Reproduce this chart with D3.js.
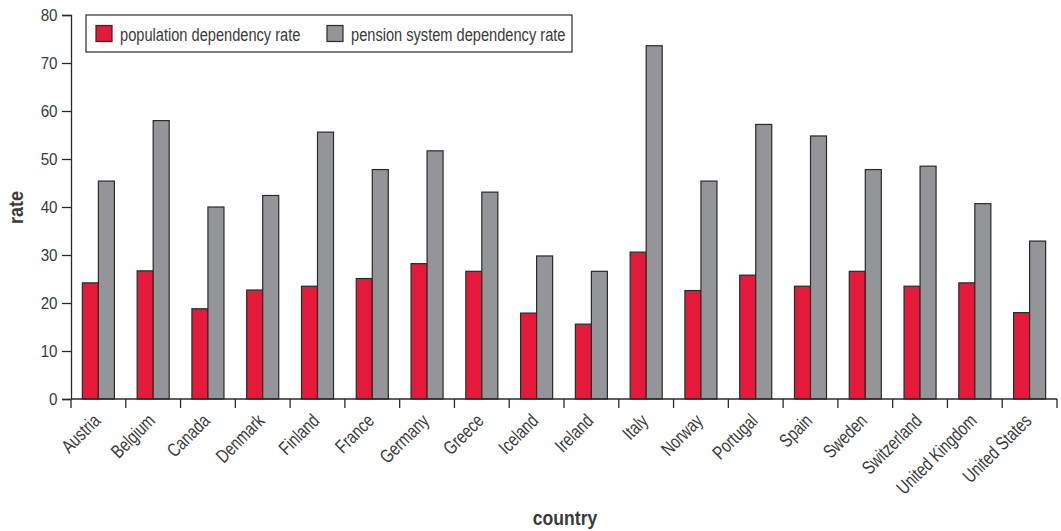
<!DOCTYPE html>
<html>
<head>
<meta charset="utf-8">
<script src="https://cdn.jsdelivr.net/npm/d3@7"></script>
<style>
  html, body { margin: 0; padding: 0; background: #fff; }
  svg { display: block; }
  text { font-family: "Liberation Sans", Arial, sans-serif; fill: #3a3a3a; }
</style>
</head>
<body>
<svg id="chart" width="1061" height="531"></svg>
<script>
const countries = ["Austria", "Belgium", "Canada", "Denmark", "Finland", "France", "Germany", "Greece",
  "Iceland", "Ireland", "Italy", "Norway", "Portugal", "Spain", "Sweden", "Switzerland",
  "United Kingdom", "United States"];
const populationRate = [24.2, 26.7, 18.8, 22.7, 23.5, 25.1, 28.2, 26.6, 17.9, 15.6, 30.6, 22.6, 25.8, 23.5, 26.6, 23.5, 24.2, 18.0];
const pensionRate = [45.4, 58.0, 40.0, 42.4, 55.6, 47.8, 51.7, 43.1, 29.8, 26.6, 73.6, 45.4, 57.2, 54.8, 47.8, 48.5, 40.7, 32.9];
const seriesNames = ["population dependency rate", "pension system dependency rate"];
const seriesColors = ["#e5193a", "#939598"];
const yTicks = [0, 10, 20, 30, 40, 50, 60, 70, 80];

const svg = d3.select("#chart");
const plotLeft = 71, plotRight = 1057, plotTop = 15, plotBottom = 399;
const strokeCol = "#2a2a2a";
const narrow = 0.77;     // horizontal squeeze for condensed labels
const narrowNum = 0.92;  // digits are squeezed less

const x = d3.scaleBand().domain(countries).range([plotLeft, plotRight]).padding(0);
const x1 = d3.scaleBand().domain([0, 1]).range([0, x.bandwidth()]).paddingInner(0).paddingOuter(0.71);
const y = d3.scaleLinear().domain([0, 80]).range([plotBottom, plotTop]);

const rows = countries.map((c, i) => ({ country: c, values: [populationRate[i], pensionRate[i]] }));

// bars
const groups = svg.append("g").selectAll("g").data(rows).join("g")
  .attr("transform", d => `translate(${x(d.country)},0)`);
groups.selectAll("rect").data(d => d.values.map((v, k) => ({ v, k }))).join("rect")
  .attr("x", d => x1(d.k))
  .attr("width", x1.bandwidth())
  .attr("y", d => y(d.v))
  .attr("height", d => y(0) - y(d.v))
  .attr("fill", d => seriesColors[d.k])
  .attr("stroke", strokeCol)
  .attr("stroke-width", 1.2);

// y axis
const yAxis = svg.append("g").attr("transform", `translate(${plotLeft},0)`)
  .call(d3.axisLeft(y).tickValues(yTicks).tickSize(9).tickPadding(4));
yAxis.select(".domain").attr("stroke", strokeCol).attr("stroke-width", 1.3);
yAxis.selectAll(".tick line").attr("stroke", strokeCol).attr("stroke-width", 1.3);
yAxis.selectAll(".tick text")
  .attr("font-size", 16.5).attr("fill", "#3a3a3a")
  .attr("font-family", "\"Liberation Sans\", Arial, sans-serif")
  .attr("transform", `scale(${narrowNum},1)`)
  .attr("x", -13.5 / narrowNum)
  .attr("dy", "0.36em");

// x axis: baseline with ticks at band boundaries
const xAxisG = svg.append("g");
xAxisG.append("line").attr("x1", plotLeft).attr("x2", plotRight).attr("y1", y(0)).attr("y2", y(0))
  .attr("stroke", strokeCol).attr("stroke-width", 1.3);
const boundaries = countries.map(c => x(c)).concat([x(countries[countries.length - 1]) + x.bandwidth()]);
xAxisG.selectAll("line.tk").data(boundaries).join("line").attr("class", "tk")
  .attr("x1", d => d).attr("x2", d => d).attr("y1", y(0)).attr("y2", y(0) + 9)
  .attr("stroke", strokeCol).attr("stroke-width", 1.3);
xAxisG.selectAll("text").data(countries).join("text")
  .attr("transform", d => `translate(${x(d) + x.bandwidth() / 2 + 3},${y(0) + 23}) rotate(-45) scale(${narrow},1)`)
  .attr("text-anchor", "end")
  .attr("font-size", 19)
  .text(d => d);

// axis titles
svg.append("text")
  .attr("transform", `translate(22.5,207.5) rotate(-90) scale(0.9,1)`)
  .attr("text-anchor", "middle").attr("font-size", 20).attr("font-weight", "bold").attr("fill", "#1e1e1e")
  .text("rate");
svg.append("text")
  .attr("transform", `translate(565,525) scale(0.88,1)`)
  .attr("text-anchor", "middle").attr("font-size", 20).attr("font-weight", "bold").attr("fill", "#1e1e1e")
  .text("country");

// legend
const legend = svg.append("g");
legend.append("rect").attr("x", 86).attr("y", 15).attr("width", 486).attr("height", 37)
  .attr("fill", "#fff").attr("stroke", strokeCol).attr("stroke-width", 1.2);
const legendX = [96, 327];
seriesNames.forEach((name, k) => {
  legend.append("rect").attr("x", legendX[k]).attr("y", 25.5).attr("width", 16).attr("height", 16)
    .attr("fill", seriesColors[k]).attr("stroke", strokeCol).attr("stroke-width", 1.2);
  legend.append("text")
    .attr("transform", `translate(${legendX[k] + 24},40.5) scale(${narrow},1)`)
    .attr("font-size", 19).text(name);
});
</script>
</body>
</html>
